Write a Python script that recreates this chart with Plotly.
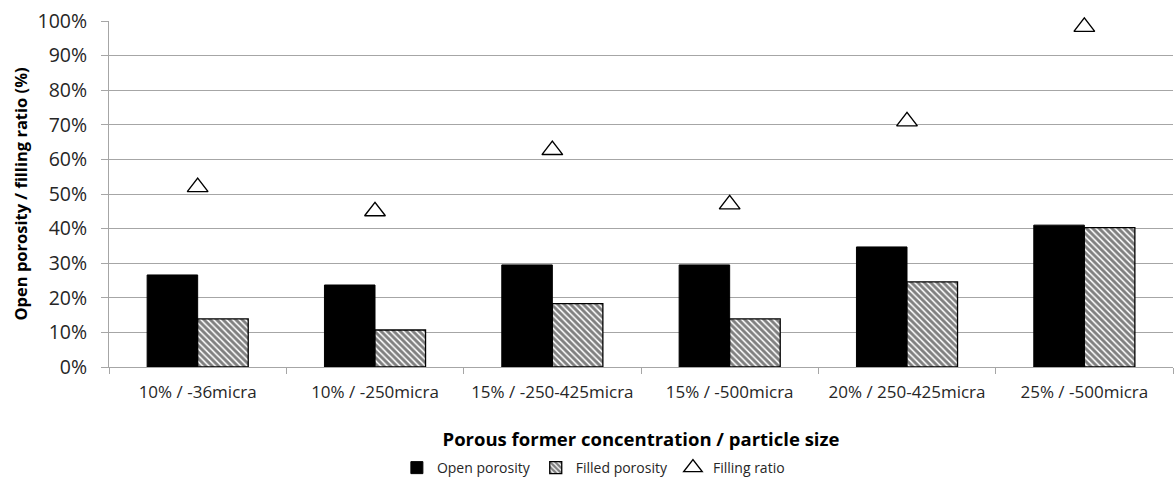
import plotly.graph_objects as go

categories = ["10% / -36micra", "10% / -250micra", "15% / -250-425micra",
              "15% / -500micra", "20% / 250-425micra", "25% / -500micra"]
open_porosity = [26.6, 23.7, 29.5, 29.5, 34.7, 41.0]
filled_porosity = [13.9, 10.7, 18.3, 13.9, 24.6, 40.3]
filling_ratio = [52.0, 45.0, 62.7, 47.0, 71.0, 98.3]
y_ticks = [0, 10, 20, 30, 40, 50, 60, 70, 80, 90, 100]
y_ticklabels = [f"{v}%" for v in y_ticks]

FONT = "'Open Sans', Lato, sans-serif"
TXT = "#262626"

fig = go.Figure()
fig.add_trace(go.Bar(
    x=categories, y=open_porosity, name="Open porosity",
    marker=dict(color="black", line=dict(color="black", width=1)),
))
fig.add_trace(go.Bar(
    x=categories, y=filled_porosity, name="Filled porosity",
    marker=dict(color="white", line=dict(color="black", width=1.3),
                pattern=dict(shape="\\", fgcolor="black", bgcolor="white",
                             size=4.5, solidity=0.65, fillmode="overlay")),
))
fig.add_trace(go.Scatter(
    x=categories, y=filling_ratio, name="Filling ratio", mode="markers",
    cliponaxis=False,
    marker=dict(symbol="triangle-up", size=18, color="white",
                line=dict(color="black", width=1.4)),
))

fig.update_layout(
    width=1175, height=484,
    margin=dict(l=109, r=2, t=21, b=117, autoexpand=False),
    paper_bgcolor="white", plot_bgcolor="white",
    barmode="group", bargap=0.43, bargroupgap=0,
    font=dict(family=FONT, color=TXT),
    showlegend=True,
    legend=dict(orientation="h", x=0.505, xref="container", xanchor="center",
                y=0.033, yref="container", yanchor="middle",
                font=dict(size=14, family=FONT, color=TXT),
                itemwidth=30, traceorder="normal", tracegroupgap=0),
    xaxis=dict(
        automargin=False,
        showgrid=False, showline=True, linecolor="#A6A6A6", linewidth=1,
        ticks="outside", tickson="boundaries", ticklen=6, tickcolor="#A6A6A6",
        ticklabelstandoff=10,
        tickfont=dict(size=17, family=FONT, color=TXT),
        title=dict(text="<b>Porous former concentration / particle size</b>",
                   font=dict(size=18.5, family=FONT, color="#000"), standoff=30),
    ),
    yaxis=dict(
        automargin=False,
        range=[0, 100], tickvals=y_ticks, ticktext=y_ticklabels,
        showgrid=True, gridcolor="#A6A6A6", gridwidth=1,
        showline=True, linecolor="#A6A6A6", linewidth=1,
        ticks="outside", ticklen=7, tickcolor="#A6A6A6",
        ticklabelstandoff=10,
        zeroline=False,
        tickfont=dict(size=19.5, family=FONT, color=TXT),
        title=dict(text="<b>Open porosity / filling ratio (%)</b>",
                   font=dict(size=16.5, family=FONT, color="#000"), standoff=5),
    ),
)

fig.write_html("out.html", config={"displayModeBar": False},
               post_script="document.body.style.margin='0';")
